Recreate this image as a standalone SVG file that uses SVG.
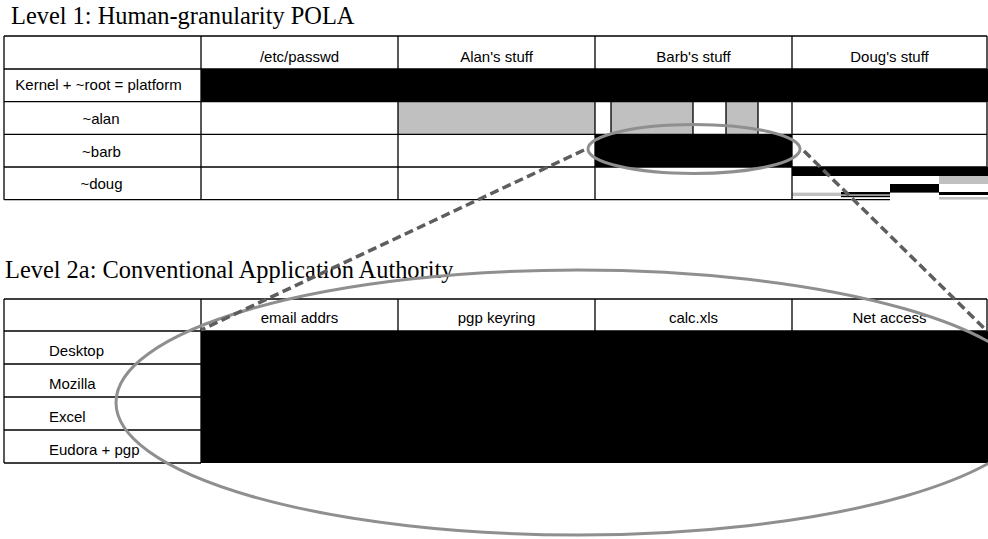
<svg xmlns="http://www.w3.org/2000/svg" width="988" height="539" viewBox="0 0 988 539">
  <style>
    .title { font-family: "Liberation Serif", "Times New Roman", serif; font-size: 24.4px; fill: #000; }
    .cell { font-family: "Liberation Sans", Arial, sans-serif; font-size: 15px; fill: #000; }
    .mid { text-anchor: middle; }
    .grid { fill: none; stroke: #000; stroke-width: 1.3; }
    .blk { fill: #000; }
    .gry { fill: #c0c0c0; }
    .ring { fill: none; stroke: #8f8f8f; stroke-width: 3; }
    .lead { fill: none; stroke: #5e5e5e; stroke-width: 3.5; stroke-dasharray: 9 4.5; }
  </style>

  <rect x="0" y="0" width="988" height="539" fill="#fff"/>

  <!-- Level 1 table -->
  <g id="level1">
    <text class="title" x="11" y="24">Level 1: Human-granularity POLA</text>

    <g id="level1-fills">
      <!-- platform row -->
      <rect class="blk" x="201" y="69" width="787" height="32.7"/>
      <!-- ~alan -->
      <rect class="gry" x="398" y="101.7" width="197" height="32.6"/>
      <rect class="gry" x="611" y="101.7" width="82" height="32.6"/>
      <rect class="gry" x="726" y="101.7" width="32" height="32.6"/>
      <!-- ~barb -->
      <rect class="blk" x="595" y="134.3" width="197" height="32.7"/>
      <!-- ~doug : scattered slices of Doug's stuff -->
      <rect class="blk" x="792" y="167" width="196" height="9"/>
      <rect class="gry" x="939" y="176" width="49" height="8"/>
      <rect class="blk" x="890" y="184" width="49" height="8.6"/>
      <rect class="blk" x="939" y="192" width="49" height="3"/>
      <rect class="gry" x="792" y="192.6" width="49" height="3.4"/>
      <rect class="blk" x="841" y="192" width="49" height="2.5"/>
      <rect class="blk" x="841" y="195.6" width="49" height="1.6"/>
      <rect class="gry" x="939" y="197" width="49" height="2.6"/>
    </g>

    <g id="level1-grid">
      <path class="grid" d="M4 36H987M4 69H987M4 101.7H987M4 134.3H987M4 167H987M4 199.7H890"/>
      <path class="grid" d="M4 36V199.7M201 36V199.7M398 36V199.7M595 36V199.7M792 36V199.7M987 36V167"/>
      <path class="grid" d="M611 101.7V134.3M693 101.7V134.3M726 101.7V134.3M758 101.7V134.3"/>
    </g>

    <g id="level1-header">
      <text class="cell mid" x="299.5" y="61.5">/etc/passwd</text>
      <text class="cell mid" x="496.5" y="61.5">Alan's stuff</text>
      <text class="cell mid" x="693.5" y="61.5">Barb's stuff</text>
      <text class="cell mid" x="889.5" y="61.5">Doug's stuff</text>
    </g>
    <g id="row-platform"><text class="cell mid" x="98.5" y="90">Kernel + ~root = platform</text></g>
    <g id="row-alan"><text class="cell mid" x="101" y="123.5">~alan</text></g>
    <g id="row-barb"><text class="cell mid" x="101.5" y="156.5">~barb</text></g>
    <g id="row-doug"><text class="cell mid" x="101.5" y="189">~doug</text></g>
  </g>

  <!-- Level 2a table -->
  <g id="level2a">
    <text class="title" x="5" y="278">Level 2a: Conventional Application Authority</text>

    <rect class="blk" x="201" y="331" width="787" height="132"/>

    <g id="level2a-grid">
      <path class="grid" d="M4 299H987M4 331H987M4 364H201M4 397H201M4 430H201M4 463H201"/>
      <path class="grid" d="M4 299V463M201 299V463M398 299V331M595 299V331M792 299V331M987 299V331"/>
    </g>

    <g id="level2a-header">
      <text class="cell mid" x="299.5" y="322.7">email addrs</text>
      <text class="cell mid" x="496.5" y="322.7">pgp keyring</text>
      <text class="cell mid" x="693.5" y="322.7">calc.xls</text>
      <text class="cell mid" x="889.5" y="322.7">Net access</text>
    </g>
    <g id="app-desktop"><text class="cell" x="49" y="356">Desktop</text></g>
    <g id="app-mozilla"><text class="cell" x="49" y="389">Mozilla</text></g>
    <g id="app-excel"><text class="cell" x="49" y="422">Excel</text></g>
    <g id="app-eudora"><text class="cell" x="49" y="455">Eudora + pgp</text></g>
  </g>

  <!-- magnification: Barb's slice expanded into the application view -->
  <g id="connectors">
    <ellipse class="ring" cx="694" cy="149" rx="106" ry="24.5"/>
    <ellipse class="ring" cx="578" cy="402.5" rx="462" ry="132.5"/>
    <line class="lead" x1="584" y1="150" x2="201" y2="330"/>
    <line class="lead" x1="804" y1="151" x2="987" y2="331"/>
  </g>
</svg>
